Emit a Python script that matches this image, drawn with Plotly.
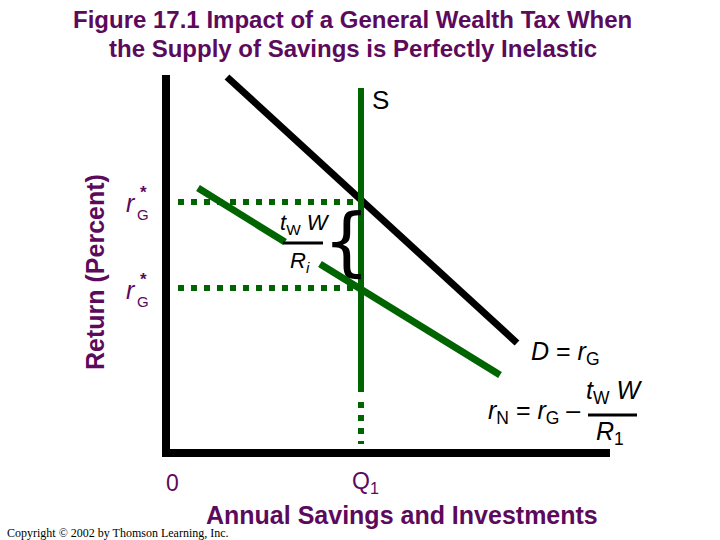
import plotly.graph_objects as go

PURPLE = "#5c0a5c"
GREEN = "#006400"
BLACK = "#000000"

# diagram values, origin at the corner of the axes
axis_h_x = [-0.4, 44.4]
axis_h_y = [0, 0]
axis_v_x = [0, 0]
axis_v_y = [0, 37.8]

demand_x = [6.1, 35.1]
demand_y = [37.6, 11.0]

supply_q = 19.5
supply_solid_y = [36.5, 6.1]
supply_dot_y = [5.1, 0.9]

rn_left_x = [3.2, 11.9]
rn_left_y = [26.5, 21.1]
rn_right_x = [15.4, 33.4]
rn_right_y = [18.9, 7.8]

r_g_star = 25.1
r_n_star = 16.5
dot_start = 1.2

frac_mid_x = [11.7, 15.7]
frac_mid_y = [21.0, 21.0]
frac_eq_x = [42.2, 47.1]
frac_eq_y = [3.8, 3.8]

title_lines = [
    "Figure 17.1 Impact of a General Wealth Tax When",
    "the Supply of Savings is Perfectly Inelastic",
]

fig = go.Figure()


def seg(x, y, color, width, dash="solid"):
    fig.add_trace(go.Scatter(
        x=x, y=y, mode="lines", hoverinfo="skip", showlegend=False,
        line=dict(color=color, width=width, dash=dash),
    ))


# axes
seg(axis_v_x, axis_v_y, BLACK, 8)
seg(axis_h_x, axis_h_y, BLACK, 8)

# dotted reference lines
seg([dot_start, supply_q], [r_g_star, r_g_star], GREEN, 6, "6px,7px")
seg([dot_start, supply_q], [r_n_star, r_n_star], GREEN, 6, "6px,7px")
seg([supply_q, supply_q], supply_dot_y, GREEN, 6, "6px,7px")

# demand, supply and net return
seg(demand_x, demand_y, BLACK, 7)
seg([supply_q, supply_q], supply_solid_y, GREEN, 6)
seg(rn_left_x, rn_left_y, GREEN, 7)
seg(rn_right_x, rn_right_y, GREEN, 7)

# fraction bars
seg(frac_mid_x, frac_mid_y, BLACK, 3)
seg(frac_eq_x, frac_eq_y, BLACK, 3)

FONT = "Liberation Sans, Arial"


def label(x, y, text, size=22, color=BLACK, family=FONT, **kw):
    fig.add_annotation(x=x, y=y, text=text, showarrow=False,
                       font=dict(size=size, color=color, family=family), **kw)


# title, one annotation per line
for ty, line in zip((0.963, 0.911), title_lines):
    fig.add_annotation(
        x=0.49, y=ty, xref="paper", yref="paper", xanchor="center", yanchor="middle",
        text=f"<b>{line}</b>", showarrow=False,
        font=dict(size=24, color=PURPLE, family=FONT),
    )

# y title
label(-7.1, 18.1, "<b>Return (Percent)</b>", size=25, color=PURPLE, textangle=-90)

# S label
label(21.4, 35.3, "S", size=26)

# r*G labels
for yy in (25.0, 16.3):
    label(-3.5, yy, "<i>r</i>", size=25, color=PURPLE)
    label(-2.3, yy + 1.1, "<b>*</b>", size=17, color=PURPLE)
    label(-2.3, yy - 1.1, "G", size=15, color=PURPLE)

# middle fraction and brace
label(13.9, 22.9, "<i>t</i><sub>W</sub> <i>W</i>", size=22)
label(13.4, 19.1, "<i>R</i><sub><i>i</i></sub>", size=22)
label(18.0, 21.2, "{", size=74, family="DejaVu Sans")

# D and r_N equations
label(39.9, 10.0, "<i>D</i> = <i>r</i><sub>G</sub>", size=25)
label(36.8, 4.1, "<i>r</i><sub>N</sub> = <i>r</i><sub>G</sub> \u2013", size=25)
label(44.8, 6.1, "<i>t</i><sub>W</sub> <i>W</i>", size=25)
label(44.4, 2.0, "<i>R</i><sub>1</sub>", size=25)

# x labels
label(0.6, -3.0, "0", size=23, color=PURPLE)
label(19.9, -2.9, "Q<sub>1</sub>", size=23, color=PURPLE)
label(23.6, -6.2, "<b>Annual Savings and Investments</b>", size=25, color=PURPLE)

fig.add_annotation(
    x=0.007, y=0.013, xref="paper", yref="paper", xanchor="left", yanchor="middle",
    text="Copyright \u00a9 2002 by Thomson Learning, Inc.", showarrow=False,
    font=dict(size=12, color=BLACK, family="Liberation Serif, Times New Roman"),
)

fig.update_layout(
    width=720, height=540,
    margin=dict(l=0, r=0, t=0, b=0),
    paper_bgcolor="white", plot_bgcolor="white",
    xaxis=dict(range=[-16.6, 55.4], visible=False, fixedrange=True),
    yaxis=dict(range=[-8.7, 45.3], visible=False, fixedrange=True),
    showlegend=False,
)

# drop the page's default body margin so the figure sits at the top-left corner
fig.write_html(
    "out.html",
    config={"displayModeBar": False},
    post_script="document.body.style.margin='0';document.body.style.padding='0';",
)
